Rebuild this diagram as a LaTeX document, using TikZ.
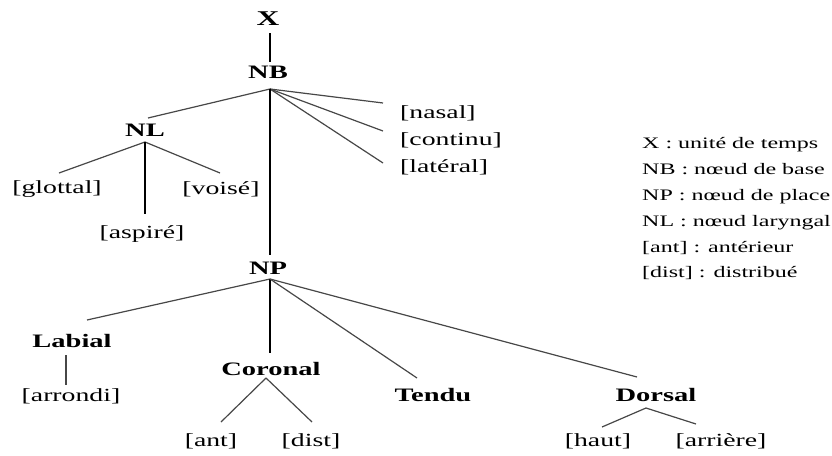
\documentclass[tikz,border=0pt]{standalone}
\usepackage{fontspec}
\setmainfont[FakeStretch=1.5]{Liberation Serif}
\usetikzlibrary{calc}
\begin{document}
\begin{tikzpicture}[x=1pt,y=-1pt,
  lbl/.style={inner sep=0pt, font=\fontsize{19}{22}\selectfont\bfseries},
  feat/.style={inner sep=0pt, font=\fontsize{18.5}{22}\selectfont},
  leg/.style={inner sep=0pt, anchor=base west, font=\fontsize{16}{20}\selectfont},
  br/.style={line width=1.2pt, black!72},
  vr/.style={line width=1.3pt, black}]
\useasboundingbox (0,0) rectangle (832,455);
% tree nodes
\node[lbl, font=\fontsize{21}{24}\selectfont\bfseries] (X) at (268,19) {X};
\node[lbl] (NB) at (268,72.5) {NB};
\node[lbl] (NL) at (145,130) {NL};
\node[feat] (glottal) at (57,189) {[glottal]};
\node[feat] (voise) at (221,189) {[voisé]};
\node[feat] (aspire) at (142,234) {[aspiré]};
\node[feat, anchor=west] (nasal) at (400,113) {[nasal]};
\node[feat, anchor=west] (continu) at (400,140) {[continu]};
\node[feat, anchor=west] (lateral) at (400,167) {[latéral]};
\node[lbl] (NP) at (268,268) {NP};
\node[lbl] (Labial) at (72,341) {Labial};
\node[feat] (arrondi) at (71,396) {[arrondi]};
\node[lbl] (Coronal) at (271,369) {Coronal};
\node[lbl] (Tendu) at (433,395) {Tendu};
\node[lbl] (Dorsal) at (656,395) {Dorsal};
\node[feat] (ant) at (211,441) {[ant]};
\node[feat] (dist) at (311,441) {[dist]};
\node[feat] (haut) at (598,441) {[haut]};
\node[feat] (arriere) at (721,441) {[arrière]};
% legend
\node[leg] (l1) at (642,148) {X : unité de temps};
\node[leg] (l2) at (642,174) {NB : nœud de base};
\node[leg] (l3) at (642,200) {NP : nœud de place};
\node[leg] (l4) at (642,226) {NL : nœud laryngal};
\node[leg] (l5) at (642,252) {[ant] : antérieur};
\node[leg] (l6) at (642,277) {[dist] : distribué};
% connectors
\draw[vr] ($(X)+(2,14)$) -- ($(NB)+(2,-10.5)$);
\draw[br] ($(NB)+(2,16.5)$) -- ($(NL)+(3,-12)$);
\draw[br] ($(NB)+(2,16.5)$) -- ($(nasal.west)+(-17,-10)$);
\draw[br] ($(NB)+(2,16.5)$) -- ($(continu.west)+(-17,-9)$);
\draw[br] ($(NB)+(2,16.5)$) -- ($(lateral.west)+(-17,-4)$);
\draw[vr] ($(NB)+(2,16.5)$) -- ($(NP)+(2,-13)$);
\draw[br] ($(NL)+(0,12)$) -- ($(glottal)+(2,-16)$);
\draw[br] ($(NL)+(0,12)$) -- ($(voise)+(-1,-16)$);
\draw[vr] ($(NL)+(0,12)$) -- ($(aspire)+(3,-20)$);
\draw[br] ($(NP)+(2,11)$) -- ($(Labial)+(15,-21)$);
\draw[vr] ($(NP)+(2,11)$) -- ($(Coronal)+(-1,-16)$);
\draw[br] ($(NP)+(2,11)$) -- ($(Tendu)+(-16,-17)$);
\draw[br] ($(NP)+(2,11)$) -- ($(Dorsal)+(-19,-18)$);
\draw[br] ($(Labial)+(-6,14)$) -- ($(arrondi)+(-5,-11)$);
\draw[br] ($(Coronal)+(-5,9)$) -- ($(ant)+(10,-19)$);
\draw[br] ($(Coronal)+(-5,9)$) -- ($(dist)+(1,-19)$);
\draw[br] ($(Dorsal)+(-10,13)$) -- ($(haut)+(4,-14)$);
\draw[br] ($(Dorsal)+(-10,13)$) -- ($(arriere)+(-25,-17)$);
\end{tikzpicture}
\end{document}
